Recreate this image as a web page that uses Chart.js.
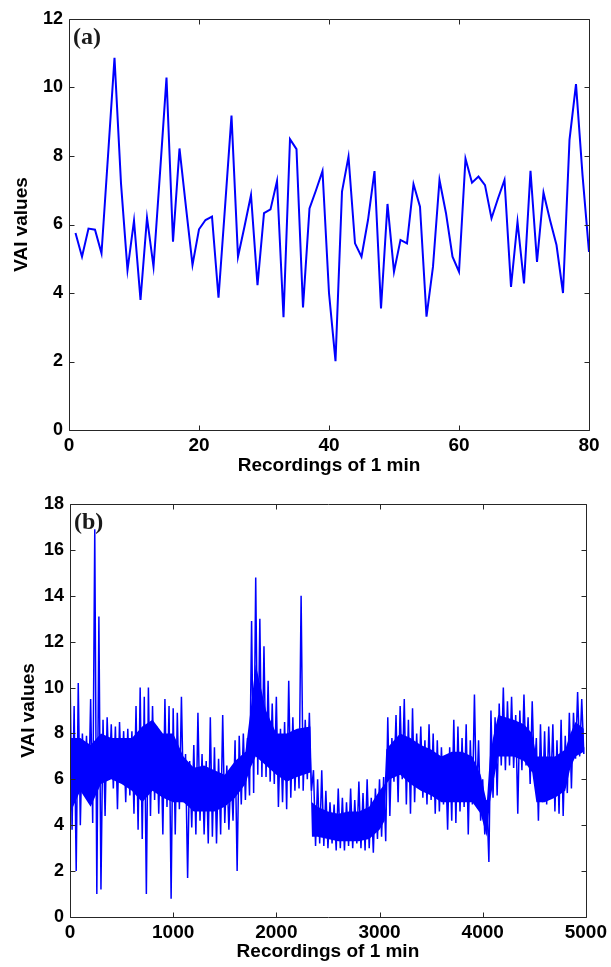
<!DOCTYPE html>
<html>
<head>
<meta charset="utf-8">
<script src="https://cdn.jsdelivr.net/npm/chart.js@4"></script>
<style>
  html, body { margin: 0; padding: 0; background: #fff; }
  #wrapA { position: absolute; left: 0; top: 0; width: 611px; height: 480px; }
  #wrapB { position: absolute; left: 0; top: 480px; width: 611px; height: 487px; }
</style>
</head>
<body>
<div id="wrapA"><canvas id="chartA" width="611" height="480"></canvas></div>
<div id="wrapB"><canvas id="chartB" width="611" height="487"></canvas></div>
<script>
// ---------- DATA ----------
// Panel (a): VAI value for each 1-min recording, recordings 1..80
const aValues = [
  5.75, 5.06, 5.88, 5.85, 5.16, 8.0, 10.87, 7.2, 4.67, 6.11,
  3.80, 6.20, 4.77, 7.5, 10.29, 5.50, 8.22, 6.5, 4.82, 5.86,
  6.13, 6.23, 3.86, 6.5, 9.18, 5.06, 5.94, 6.86, 4.23, 6.33,
  6.44, 7.27, 3.29, 8.49, 8.20, 3.58, 6.47, 7.0, 7.56, 4.0,
  2.01, 6.96, 7.98, 5.45, 5.06, 6.13, 7.56, 3.55, 6.60, 4.62,
  5.55, 5.45, 7.18, 6.52, 3.31, 4.77, 7.30, 6.33, 5.06, 4.62,
  7.92, 7.22, 7.40, 7.15, 6.18, 6.76, 7.30, 4.18, 6.08, 4.28,
  7.57, 4.91, 6.93, 6.13, 5.40, 4.00, 8.47, 10.10, 7.45, 5.20
];
const aFirstRecording = 1;

// Panel (b): ~5000 recordings, read as alternating local highs / lows per block of 40 recordings
const bBlock = 40;
const bHigh = [
  10.9, 9.2, 10.2, 8.0, 7.9, 9.5, 16.9, 13.1, 8.6, 8.7,
  8.4, 8.3, 8.5, 8.1, 8.2, 8.1, 9.2, 10.0, 9.6, 10.0,
  9.2, 8.3, 8.0, 9.5, 9.2, 9.1, 8.9, 9.6, 7.1, 6.8,
  7.5, 8.9, 7.1, 6.8, 8.7, 7.4, 6.9, 8.8, 6.6, 6.4,
  7.7, 7.9, 8.0, 7.8, 12.9, 14.8, 13.0, 11.8, 10.3, 9.3,
  9.6, 8.2, 8.5, 10.3, 8.7, 8.0, 14.0, 8.6, 8.9, 6.4,
  6.0, 6.4, 5.5, 5.0, 4.9, 5.6, 5.2, 5.0, 5.6, 5.1,
  5.9, 5.4, 6.0, 5.2, 5.6, 6.0, 6.1, 8.7, 7.8, 8.8,
  9.2, 9.5, 8.6, 9.1, 8.0, 8.3, 7.7, 8.4, 8.0, 7.7,
  7.4, 6.9, 7.4, 8.6, 8.3, 7.8, 8.4, 7.7, 9.7, 7.7,
  6.0, 5.1, 9.0, 8.7, 9.3, 10.0, 9.4, 9.6, 8.8, 9.0,
  9.7, 8.7, 9.4, 7.8, 8.4, 8.1, 8.3, 8.4, 7.7, 8.6,
  7.9, 8.9, 8.9, 9.8, 9.5
];
const bLow = [
  3.8, 2.0, 4.0, 5.8, 5.1, 4.1, 1.0, 1.2, 4.4, 6.0,
  5.6, 4.7, 5.9, 5.0, 5.3, 4.5, 3.8, 3.4, 1.0, 4.4,
  5.1, 4.5, 3.6, 4.8, 0.8, 3.6, 4.7, 5.0, 1.7, 3.9,
  3.6, 4.2, 3.6, 3.2, 3.5, 3.2, 3.6, 4.1, 3.8, 4.2,
  2.0, 4.9, 5.1, 5.3, 5.4, 6.2, 6.1, 6.1, 5.9, 5.8,
  4.8, 5.0, 4.7, 5.2, 5.5, 5.6, 5.5, 6.0, 5.5, 3.1,
  3.2, 3.1, 3.0, 3.2, 2.9, 3.0, 2.9, 3.1, 3.0, 3.2,
  3.0, 2.9, 3.0, 2.8, 3.4, 3.5, 3.3, 4.4, 5.9, 5.0,
  6.0, 4.9, 4.5, 5.0, 5.6, 5.2, 4.9, 5.1, 4.5, 4.6,
  4.9, 3.8, 4.2, 4.1, 4.6, 4.8, 3.6, 4.9, 5.0, 4.2,
  3.6, 2.4, 5.2, 5.3, 6.6, 6.4, 6.6, 6.5, 4.5, 6.4,
  6.6, 5.8, 6.2, 4.2, 5.0, 4.9, 5.6, 4.6, 4.5, 4.4,
  5.4, 5.6, 6.9, 7.0, 7.1
];
const bLastRecording = 4980;
const bLastValue = 7.4;

// Panel (b): dense core band of the trace (where most recordings lie)
const bCoreRecordings = [
  0, 100, 200, 300, 400, 500, 600, 700, 800, 900,
  1000, 1100, 1200, 1300, 1400, 1500, 1600, 1700, 1750, 1800,
  1900, 2000, 2100, 2200, 2330, 2345, 2400, 2500, 2600, 2700,
  2800, 2900, 3000, 3050, 3065, 3100, 3200, 3300, 3400, 3500,
  3600, 3700, 3800, 3900, 3980, 4040, 4070, 4100, 4150, 4300,
  4400, 4480, 4520, 4600, 4700, 4800, 4850, 4900, 4980
];
const bCoreHigh = [
  7.8, 7.8, 7.5, 8.0, 7.8, 7.8, 7.8, 8.3, 8.6, 8.0,
  8.0, 7.0, 6.5, 6.6, 6.4, 6.2, 6.8, 7.2, 9.0, 11.0,
  9.0, 8.0, 8.0, 8.2, 8.3, 5.0, 4.8, 4.6, 4.5, 4.6,
  4.6, 4.8, 5.5, 5.8, 7.3, 7.5, 8.0, 7.8, 7.5, 7.3,
  7.0, 7.2, 7.2, 7.0, 6.2, 5.0, 7.0, 7.8, 8.8, 8.6,
  8.4, 8.0, 7.0, 7.0, 7.0, 7.3, 8.0, 8.5, 8.2
];
const bCoreLow = [
  4.5, 5.5, 4.8, 5.8, 6.0, 5.8, 5.5, 5.0, 5.5, 5.2,
  5.0, 5.0, 4.6, 4.6, 4.6, 4.8, 5.2, 5.8, 6.5, 7.0,
  6.6, 6.2, 5.9, 6.1, 6.3, 3.5, 3.5, 3.4, 3.3, 3.3,
  3.3, 3.4, 3.8, 4.2, 5.8, 6.0, 6.2, 5.8, 5.5, 5.3,
  5.0, 5.0, 5.0, 5.0, 4.5, 3.5, 5.0, 5.8, 7.0, 7.0,
  6.8, 6.3, 5.0, 5.0, 5.2, 5.5, 6.5, 7.0, 7.2
];

// Tick labels
const aXTicks = [0, 20, 40, 60, 80];
const aYTicks = [0, 2, 4, 6, 8, 10, 12];
const bXTicks = [0, 1000, 2000, 3000, 4000, 5000];
const bYTicks = [0, 2, 4, 6, 8, 10, 12, 14, 16, 18];

const xTitle = 'Recordings of 1 min';
const yTitle = 'VAI values';

// ---------- BUILD ----------
const aData = aValues.map((v, i) => ({ x: aFirstRecording + i, y: v }));
const bData = [];
bHigh.forEach((h, k) => {
  bData.push({ x: k * bBlock, y: h });
  bData.push({ x: k * bBlock + bBlock / 2, y: bLow[k] });
});
bData.push({ x: bLastRecording, y: bLastValue });
const bCoreHiData = bCoreRecordings.map((r, k) => ({ x: r, y: bCoreHigh[k] }));
const bCoreLoData = bCoreRecordings.map((r, k) => ({ x: r, y: bCoreLow[k] }));

const fam = '"Liberation Sans", Arial, sans-serif';
const xTickFont = { family: fam, size: 19, weight: 'bold' };
const yTickFont = { family: fam, size: 18, weight: 'bold' };
const titleFont = { family: fam, size: 19, weight: 'bold' };

const boxTicks = {
  id: 'boxTicks',
  afterDraw(chart, args, opts) {
    const { ctx, chartArea: a, scales: { x, y } } = chart;
    ctx.save();
    ctx.strokeStyle = '#262626';
    ctx.lineWidth = 1;
    const L = 5;
    const l = Math.round(a.left) + 0.5, r = Math.round(a.right) + 0.5;
    const t = Math.round(a.top) + 0.5, b = Math.round(a.bottom) + 0.5;
    ctx.beginPath();
    ctx.rect(l, t, r - l, b - t);
    x.ticks.forEach(tk => {
      const px = Math.round(x.getPixelForValue(tk.value)) + 0.5;
      ctx.moveTo(px, b); ctx.lineTo(px, b - L);
      ctx.moveTo(px, t); ctx.lineTo(px, t + L);
    });
    y.ticks.forEach(tk => {
      const py = Math.round(y.getPixelForValue(tk.value)) + 0.5;
      ctx.moveTo(l, py); ctx.lineTo(l + L, py);
      ctx.moveTo(r, py); ctx.lineTo(r - L, py);
    });
    ctx.stroke();
    ctx.fillStyle = '#1a1a1a';
    ctx.font = 'bold 24px "Liberation Serif", "Times New Roman", serif';
    ctx.textBaseline = 'alphabetic';
    ctx.textAlign = 'left';
    ctx.fillText(opts.label, a.left + 4, a.top + 25);
    ctx.restore();
  }
};

function makeChart(id, datasets, cfg) {
  return new Chart(document.getElementById(id), {
    type: 'line',
    data: { datasets: datasets },
    options: {
      responsive: false,
      animation: false,
      devicePixelRatio: 1,
      layout: { padding: cfg.padding },
      plugins: {
        legend: { display: false },
        tooltip: { enabled: false },
        boxTicks: { label: cfg.label }
      },
      scales: {
        x: {
          type: 'linear',
          min: cfg.xTicks[0], max: cfg.xTicks[cfg.xTicks.length - 1],
          afterBuildTicks: s => { s.ticks = cfg.xTicks.map(v => ({ value: v })); },
          afterFit: s => { s.height = 50; },
          grid: { display: false, drawTicks: false },
          border: { display: false },
          ticks: { font: xTickFont, color: '#000', padding: 4, maxRotation: 0, autoSkip: false, callback: v => String(v) },
          title: { display: true, text: xTitle, font: titleFont, color: '#000', padding: { top: 0, bottom: cfg.xTitlePad } }
        },
        y: {
          type: 'linear',
          min: cfg.yTicks[0], max: cfg.yTicks[cfg.yTicks.length - 1],
          afterBuildTicks: s => { s.ticks = cfg.yTicks.map(v => ({ value: v })); },
          afterFit: s => { s.width = cfg.yWidth; },
          grid: { display: false, drawTicks: false },
          border: { display: false },
          ticks: { font: yTickFont, color: '#000', padding: 6, autoSkip: false, callback: v => String(v) },
          title: { display: true, text: yTitle, font: titleFont, color: '#000', padding: { top: cfg.yTitlePad, bottom: 0 } }
        }
      }
    },
    plugins: [boxTicks]
  });
}

const blue = '#0000ff';
makeChart('chartA', [
  { data: aData, borderColor: blue, borderWidth: 2, pointRadius: 0, tension: 0, fill: false }
], {
  label: '(a)',
  padding: { top: 19, right: 22, left: 0, bottom: 0 },
  xTicks: aXTicks, yTicks: aYTicks, yWidth: 69, yTitlePad: 10, xTitlePad: 3
});
makeChart('chartB', [
  { data: bCoreHiData, borderColor: blue, borderWidth: 0, pointRadius: 0, tension: 0, fill: false },
  { data: bCoreLoData, borderColor: blue, borderWidth: 0, pointRadius: 0, tension: 0, fill: '-1', backgroundColor: blue },
  { data: bData, borderColor: blue, borderWidth: 1.5, pointRadius: 0, tension: 0, fill: false }
], {
  label: '(b)',
  padding: { top: 24, right: 23, left: 0, bottom: 0 },
  xTicks: bXTicks, yTicks: bYTicks, yWidth: 70, yTitlePad: 17, xTitlePad: 4
});
</script>
</body>
</html>
